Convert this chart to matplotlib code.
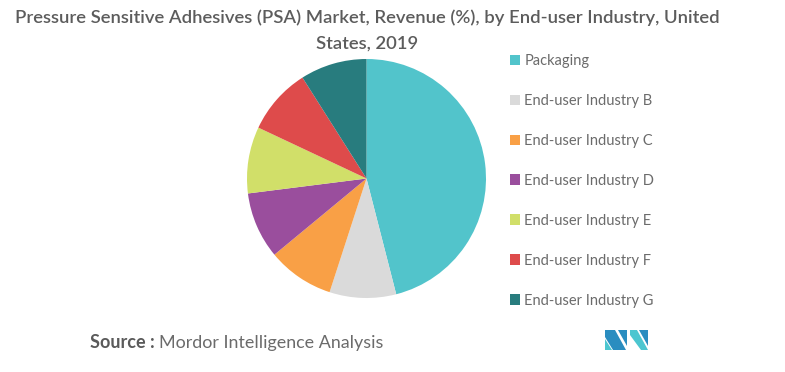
import matplotlib
matplotlib.use("Agg")
import matplotlib.pyplot as plt
from matplotlib.patches import Polygon

# ── Data ──────────────────────────────────────────────────────────────────────
labels = ["Packaging", "End-user Industry B", "End-user Industry C",
          "End-user Industry D", "End-user Industry E", "End-user Industry F",
          "End-user Industry G"]
shares = [46, 9, 9, 9, 9, 9, 9]
colors = ["#52C4CB", "#DADADA", "#F9A046", "#9A4E9D", "#D1DF69", "#DE4B4B", "#287C7E"]

title = "Pressure Sensitive Adhesives (PSA) Market, Revenue (%), by End-user Industry, United\nStates, 2019"

W, H = 785, 372
fig = plt.figure(figsize=(W / 100, H / 100), dpi=100)

# ── Pie ───────────────────────────────────────────────────────────────────────
ax = fig.add_axes([247 / W, 1 - 298 / H, 239 / W, 239 / H])
wedges, _ = ax.pie(shares, colors=colors, startangle=90, counterclock=False,
                   wedgeprops=dict(linewidth=0))
ax.set_xlim(-1, 1); ax.set_ylim(-1, 1)
ax.set_aspect("equal")

leg = fig.legend(wedges, labels, loc="upper left", bbox_to_anchor=(504 / W, 1 - 48 / H),
                 frameon=False, handlelength=0.7, handleheight=0.7, handletextpad=0.3,
                 labelspacing=1.78, borderaxespad=0,
                 prop=dict(family="Lato", size=10.5))
for t in leg.get_texts():
    t.set_color("#6b6b6b")

# ── Title / source ────────────────────────────────────────────────────────────
fig.text(367 / W, 1 - 9 / H, title, ha="center", va="top", fontsize=13.3,
         color="#5c5c5c", family="Lato", fontweight="semibold", linespacing=1.76)

fig.text(90 / W, 1 - 343 / H, "Source :", ha="left", va="center", fontsize=13,
         color="#5a5a5a", family="Lato", fontweight="bold")
fig.text(159 / W, 1 - 343 / H, "Mordor Intelligence Analysis", ha="left", va="center",
         fontsize=12.9, color="#6b6b6b", family="Lato")

# ── Logo ──────────────────────────────────────────────────────────────────────
def px(pts):
    return [(x / W, 1 - y / H) for x, y in pts]

logo = [
    ([(605, 330), (615, 330), (626, 350), (613, 350), (605, 337)], "#2A8DC0"),
    ([(605, 339), (612, 350), (605, 350)], "#4CC6D0"),
    ([(618, 330), (627, 330), (627, 346)], "#2A8DC0"),
    ([(630, 330), (637, 330), (648, 350), (641, 350), (630, 335)], "#4CC6D0"),
    ([(639, 330), (648, 330), (648, 346)], "#2A8DC0"),
]
for pts, c in logo:
    fig.patches.append(Polygon(px(pts), closed=True, transform=fig.transFigure,
                               facecolor=c, edgecolor="none"))

fig.savefig("out.png", dpi=100, facecolor="white")
